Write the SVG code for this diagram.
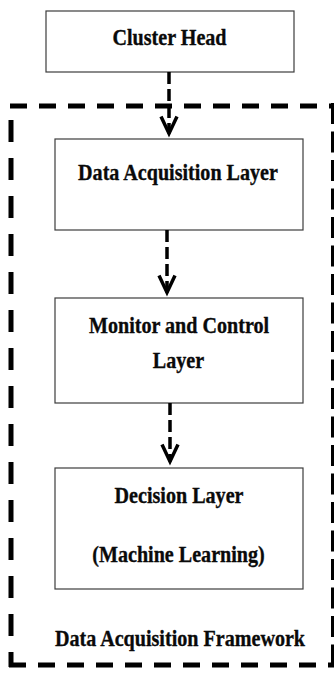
<svg xmlns="http://www.w3.org/2000/svg" width="334" height="673" viewBox="0 0 334 673">
  <style>
    .box { fill: #ffffff; stroke: #3c3c3c; stroke-width: 1.2; }
    .label { font-family: 'Liberation Serif', 'Times New Roman', serif; font-weight: 700; font-size: 24px; fill: #0a0a0a; stroke: #0a0a0a; stroke-width: 0.35; text-anchor: middle; }
    .frame { fill: none; stroke: #000000; stroke-width: 5; }
    .flow { fill: none; stroke: #000000; stroke-width: 3.5; stroke-dasharray: 12 5; marker-end: url(#chevron); }
  </style>
  <defs>
    <marker id="chevron" markerUnits="userSpaceOnUse" viewBox="-22 -12 26 24" refX="0" refY="0" markerWidth="26" markerHeight="24" orient="auto" overflow="visible">
      <path d="M -17 -8 L 0 0 L -17 8" fill="none" stroke="#000000" stroke-width="3.5" stroke-linejoin="miter"/>
    </marker>
  </defs>

  <rect width="334" height="673" fill="#ffffff"/>

  <!-- dashed enclosure of the framework -->
  <g id="framework">
    <line class="frame" x1="10" y1="106" x2="331" y2="106" stroke-dasharray="17 12"/>
    <line class="frame" x1="11" y1="120" x2="11" y2="667" stroke-dasharray="22 16"/>
    <line class="frame" x1="333.5" y1="103" x2="333.5" y2="667" stroke-dasharray="21 7.5"/>
    <line class="frame" x1="9" y1="665" x2="334" y2="665" stroke-dasharray="17 12"/>
    <text class="label" transform="translate(180 645.5) scale(0.838 1)">Data Acquisition Framework</text>
  </g>

  <g id="cluster-head">
    <rect class="box" x="46" y="11" width="248" height="61"/>
    <text class="label" transform="translate(169.5 45) scale(0.838 1)">Cluster Head</text>
  </g>

  <g id="data-acquisition-layer">
    <rect class="box" x="55" y="139" width="248" height="91"/>
    <text class="label" transform="translate(178 179.5) scale(0.838 1)">Data Acquisition Layer</text>
  </g>

  <g id="monitor-control-layer">
    <rect class="box" x="55" y="298" width="248" height="105"/>
    <text class="label" transform="translate(179 332.5) scale(0.838 1)">Monitor and Control</text>
    <text class="label" transform="translate(178.5 367.5) scale(0.838 1)">Layer</text>
  </g>

  <g id="decision-layer">
    <rect class="box" x="55" y="468" width="248" height="121"/>
    <text class="label" transform="translate(179 502.5) scale(0.838 1)">Decision Layer</text>
    <text class="label" transform="translate(178.5 561.5) scale(0.838 1)">(Machine Learning)</text>
  </g>

  <g id="connectors">
    <line class="flow" x1="169" y1="72" x2="169" y2="133.5"/>
    <line class="flow" x1="167" y1="230" x2="167" y2="292.5"/>
    <line class="flow" x1="170" y1="403" x2="170" y2="461.5"/>
  </g>
</svg>
